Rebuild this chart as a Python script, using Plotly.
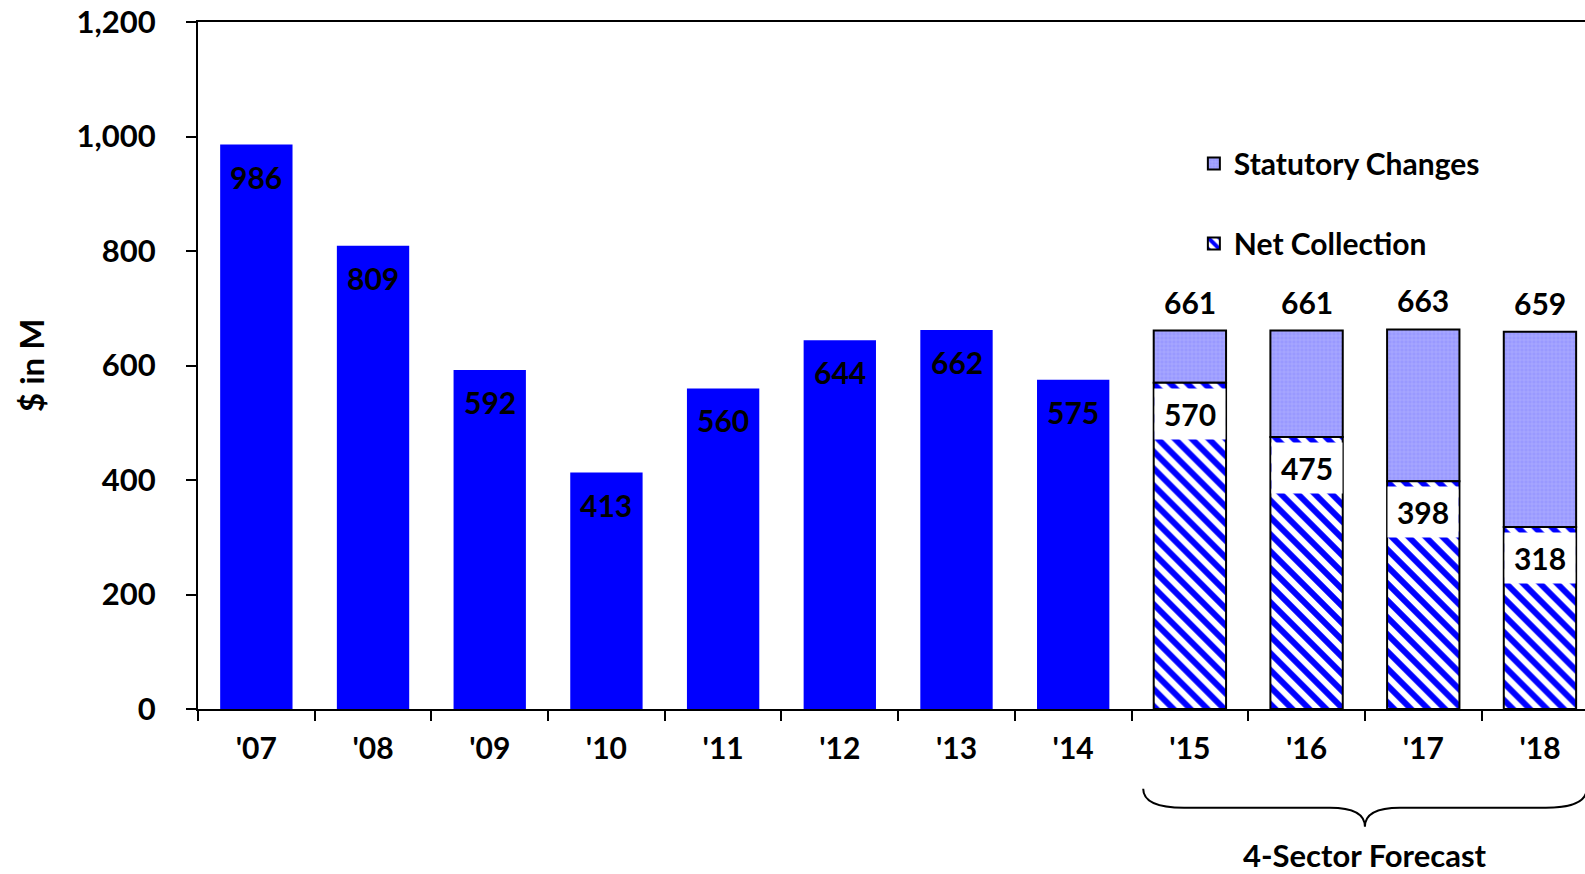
import plotly.graph_objects as go

# ---- data ----
years = ["'07", "'08", "'09", "'10", "'11", "'12", "'13", "'14", "'15", "'16", "'17", "'18"]
actual_years = ["'07", "'08", "'09", "'10", "'11", "'12", "'13", "'14"]
actual_values = [986, 809, 592, 413, 560, 644, 662, 575]
forecast_years = ["'15", "'16", "'17", "'18"]
net_collection = [570, 475, 398, 318]
forecast_totals = [661, 661, 663, 659]
statutory_changes = [t - n for t, n in zip(forecast_totals, net_collection)]
y_ticks = [0, 200, 400, 600, 800, 1000, 1200]

FONT = "Lato"
BLUE = "#0000FF"
LAV = "#9999FF"

fig = go.Figure()

fig.add_trace(go.Bar(
    x=actual_years, y=actual_values, name="Actual", showlegend=False,
    width=0.62, marker=dict(color=BLUE, line=dict(width=0)),
))
# Statutory changes sit on top of the net collection (explicit base)
fig.add_trace(go.Bar(
    x=forecast_years, y=statutory_changes, base=net_collection, name="Statutory Changes",
    legendgroup="stat", width=0.62,
    marker=dict(color=LAV, line=dict(color="black", width=2),
                pattern=dict(shape="+", fgcolor="#c9c9ff", bgcolor=LAV, size=4, solidity=0.25)),
))
fig.add_trace(go.Bar(
    x=forecast_years, y=net_collection, name="Net Collection",
    legendgroup="net", width=0.62,
    marker=dict(color="white", line=dict(color="black", width=2),
                pattern=dict(shape="\\", fgcolor=BLUE, bgcolor="white", fgopacity=1,
                             fillmode="replace", size=12, solidity=0.5)),
))

annotations = []
for yr, v in zip(actual_years, actual_values):
    annotations.append(dict(x=yr, y=v, xref="x", yref="y", text=str(v), showarrow=False,
                            yshift=-32, font=dict(size=30, color="black", family=FONT, weight="bold")))
for yr, v in zip(forecast_years, net_collection):
    annotations.append(dict(x=yr, y=v, xref="x", yref="y", text=str(v), showarrow=False,
                            yshift=-31, width=70, height=50, bgcolor="white", borderpad=0,
                            font=dict(size=30, color="black", family=FONT, weight="bold")))
for yr, v in zip(forecast_years, forecast_totals):
    annotations.append(dict(x=yr, y=v, xref="x", yref="y", text=str(v), showarrow=False,
                            yshift=29, font=dict(size=30, color="black", family=FONT, weight="bold")))

annotations.append(dict(x=-0.1208, y=0.5, xref="paper", yref="paper", text="$ in M",
                        textangle=-90, showarrow=False, xanchor="center", yanchor="middle",
                        font=dict(size=33, color="black", family=FONT, weight="bold")))
annotations.append(dict(x=9.5, y=-0.213, xref="x", yref="paper", text="4-Sector Forecast",
                        showarrow=False, xanchor="center", yanchor="middle",
                        font=dict(size=31, color="black", family=FONT, weight="bold")))

brace = ("M 7.6,-0.116 Q 7.6,-0.1436 7.95,-0.1436 L 9.2,-0.1436 "
         "Q 9.5,-0.1436 9.5,-0.1713 Q 9.5,-0.1436 9.8,-0.1436 L 11.05,-0.1436 "
         "Q 11.4,-0.1436 11.4,-0.116")

fig.update_layout(
    width=1585, height=874,
    margin=dict(l=198, r=0, t=22, b=165),
    paper_bgcolor="white", plot_bgcolor="white",
    barmode="overlay",
    font=dict(family=FONT, size=30, color="black", weight="bold"),
    xaxis=dict(type="category", categoryorder="array", categoryarray=years,
               range=[-0.5, 11.386], showline=True, linecolor="black", linewidth=2,
               mirror=True, ticks="outside", tickson="boundaries", ticklen=10,
               tickwidth=1.5, tickcolor="black", showgrid=False,
               tickfont=dict(size=30, family=FONT, weight="bold"), ticklabelstandoff=12),
    yaxis=dict(range=[0, 1200], tickvals=y_ticks, tickformat=",", showline=True,
               linecolor="black", linewidth=2, ticks="outside", ticklen=10,
               tickwidth=1.5, tickcolor="black", showgrid=False, zeroline=False,
               tickfont=dict(size=31, family=FONT, weight="bold"), ticklabelstandoff=24),
    legend=dict(x=0.718, y=0.832, xanchor="left", yanchor="top",
                traceorder="grouped", tracegroupgap=38,
                font=dict(size=30, family=FONT, weight="bold"), bgcolor="rgba(0,0,0,0)"),
    annotations=annotations,
    shapes=[dict(type="path", path=brace, xref="x", yref="paper",
                 line=dict(color="black", width=2))],
)

fig.write_html("out.html")
